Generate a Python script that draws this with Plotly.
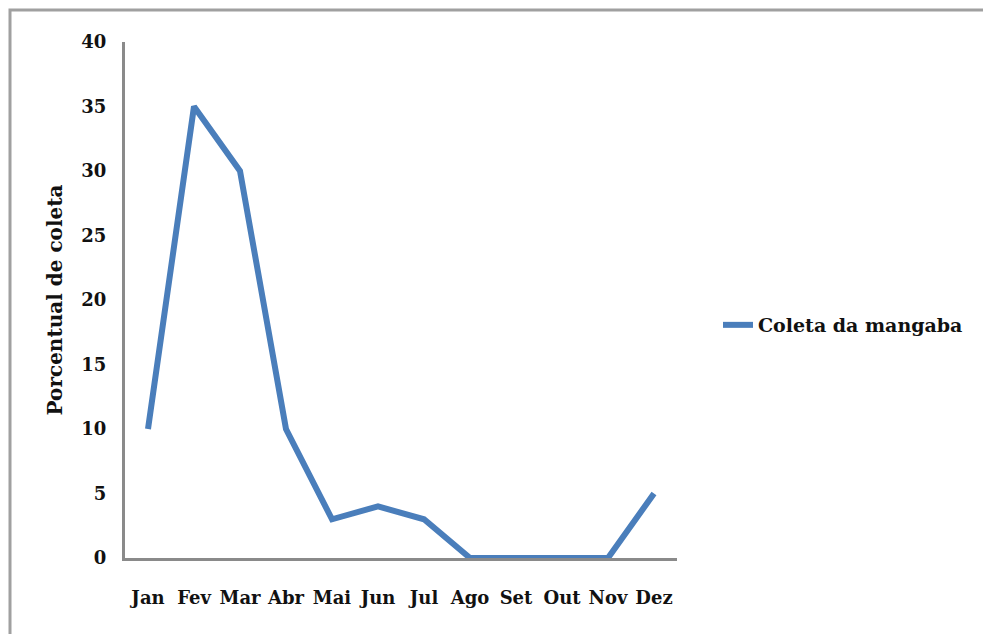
import plotly.graph_objects as go

months = ["Jan", "Fev", "Mar", "Abr", "Mai", "Jun", "Jul", "Ago", "Set", "Out", "Nov", "Dez"]
coleta = [10, 35, 30, 10, 3, 4, 3, 0, 0, 0, 0, 5]
y_ticks = [0, 5, 10, 15, 20, 25, 30, 35, 40]

FONT = "DejaVu Serif"

fig = go.Figure()
fig.add_trace(go.Scatter(
    x=months, y=coleta, mode="lines", name="Coleta da mangaba",
    line=dict(color="#4a7ebb", width=6),
))

L, R, T, B = 125, 306, 42, 76
W, H = 983, 634
pw, ph = W - L - R, H - T - B

fig.update_layout(
    width=W, height=H,
    margin=dict(l=L, r=R, t=T, b=B),
    plot_bgcolor="white", paper_bgcolor="white",
    font=dict(family=FONT, size=18, color="#111111"),
    showlegend=True,
    legend=dict(x=(718 - L) / pw, y=(H - 325 - B) / ph, xanchor="left", yanchor="middle",
                font=dict(family=FONT, size=19, color="#111111", weight="bold"),
                bgcolor="rgba(0,0,0,0)", itemwidth=30),
    xaxis=dict(
        type="category", range=[-0.5, 11.5], showgrid=False, zeroline=False,
        showline=True, linecolor="#8a8a8a", linewidth=3, ticks="",
        tickfont=dict(family=FONT, size=18, weight="bold"), ticklabelstandoff=21,
    ),
    yaxis=dict(
        range=[0, 40], tickvals=y_ticks, showgrid=False, zeroline=False,
        showline=True, linecolor="#8a8a8a", linewidth=3, ticks="",
        tickfont=dict(family=FONT, size=18, weight="bold"), ticklabelstandoff=12,
        title=dict(text="Porcentual de coleta", font=dict(family=FONT, size=20, weight="bold"),
                   standoff=14),
    ),
    shapes=[dict(type="rect", xref="paper", yref="paper",
                 x0=(10 - L) / pw, x1=(1100 - L) / pw,
                 y0=(H - B - 800) / ph, y1=(H - B - 10) / ph,
                 line=dict(color="#a0a0a0", width=3), fillcolor="rgba(0,0,0,0)", layer="below")],
)

fig.write_html("out.html", config={"displayModeBar": False},
               post_script="document.body.style.margin='0';")
